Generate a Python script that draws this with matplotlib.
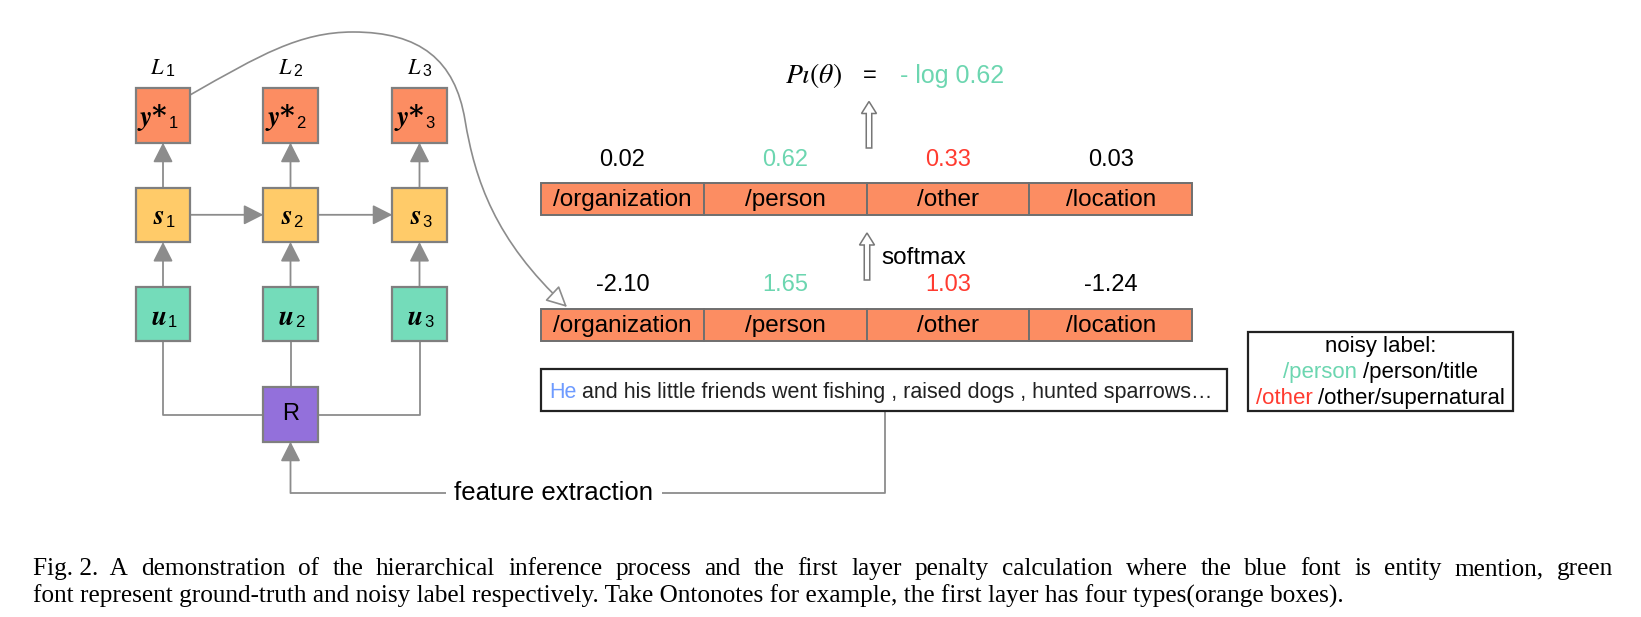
import matplotlib
matplotlib.use('Agg')
import matplotlib.pyplot as plt
from matplotlib.patches import Rectangle, FancyArrowPatch, FancyArrow
from matplotlib.path import Path

plt.rcParams['mathtext.fontset'] = 'stix'

# ---- data ----
LAYERS = [1, 2, 3]
TYPES = ['/organization', '/person', '/other', '/location']
LOGITS = [-2.10, 1.65, 1.03, -1.24]
PROBS = [0.02, 0.62, 0.33, 0.03]
TRUE_IDX = 1      # ground truth type (green)
NOISY_IDX = 2     # noisy type (red)
PENALTY = '- log 0.62'
MENTION = 'He'
SENTENCE = 'and his little friends went fishing , raised dogs , hunted sparrows…'
NOISY_TITLE = 'noisy label:'
NOISY_LABELS = [('/person', '/person/title'), ('/other', '/other/supernatural')]
CAPTION = [
    'Fig. 2.  A demonstration of the hierarchical inference process and the first layer '
    'penalty calculation where the blue font is entity mention, green',
    'font represent ground-truth and noisy label respectively. Take Ontonotes for example, '
    'the first layer has four types(orange boxes).',
]

# ---- colours ----
ORANGE = '#FC8D62'
YELLOW = '#FFCB69'
MINT = '#74DCBA'
PURPLE = '#9370DB'
GREEN_TXT = '#6CD6B0'
RED_TXT = '#FF3B30'
BLUE_TXT = '#6E9BFF'
EDGE = '#7F7F7F'
GREY = '#8C8C8C'
SANS = 'Liberation Sans'
SERIF = 'Liberation Serif'

W, H = 1641, 617
fig = plt.figure(figsize=(W / 100, H / 100), dpi=100)
ax = fig.add_axes([0, 0, 1, 1])
ax.set_xlim(0, W)
ax.set_ylim(H, 0)
ax.axis('off')
renderer = fig.canvas.get_renderer()


def text_width(s, **kw):
    t = ax.text(0, 0, s, **kw)
    w = t.get_window_extent(renderer).width
    t.remove()
    return w


def colored_line(x, y, parts, size, ha='center', zorder=4):
    # draws words of different colours on one baseline
    sp = text_width('a a', fontsize=size, family=SANS) - text_width('aa', fontsize=size, family=SANS)
    widths = [text_width(s, fontsize=size, family=SANS) for s, c in parts]
    total = sum(widths) + sp * (len(parts) - 1)
    cur = x - total / 2 if ha == 'center' else x
    for (s, c), w in zip(parts, widths):
        ax.text(cur, y, s, fontsize=size, family=SANS, color=c, ha='left', va='baseline',
                zorder=zorder)
        cur += w + sp


def box(cx, cy, size, color, lw=1.6):
    ax.add_patch(Rectangle((cx - size / 2, cy - size / 2), size, size,
                           facecolor=color, edgecolor=EDGE, linewidth=lw, zorder=3))


def arrow(p0, p1):
    ax.add_patch(FancyArrowPatch(p0, p1, arrowstyle='-|>,head_length=0.75,head_width=0.38',
                                 mutation_scale=16, color=GREY, linewidth=1.3,
                                 shrinkA=0, shrinkB=0, zorder=2))


def line(xs, ys):
    ax.plot(xs, ys, color=GREY, linewidth=1.3, solid_capstyle='butt', zorder=1)


def node_label(cx, cy, sym, n, off, base, sub_base):
    ax.text(cx + off, cy + base, sym, fontsize=20, family='DejaVu Serif', fontweight='bold',
            ha='right', va='baseline', zorder=4)
    ax.text(cx + off + 1, cy + sub_base, str(n), fontsize=12, family=SANS,
            ha='left', va='baseline', zorder=4)


# ---- left part: hierarchical inference ----
COL_X = [163, 290.5, 419.5]
BOX = 54.4
Y_ROW, S_ROW, U_ROW, R_ROW = 115.5, 214.8, 314.2, 414.5
half = BOX / 2

for cx, n in zip(COL_X, LAYERS):
    ax.text(cx + 2, 74.5, r'$L$', fontsize=16, ha='right', va='baseline')
    ax.text(cx + 2.5, 76.5, str(n), fontsize=11.5, family=SANS, ha='left', va='baseline')
    box(cx, Y_ROW, BOX, ORANGE)
    box(cx, S_ROW, BOX, YELLOW)
    box(cx, U_ROW, BOX, MINT)
    node_label(cx, Y_ROW, r'$\mathbfit{y}$*', n, 5, 9.5, 13)
    node_label(cx, S_ROW, r'$\mathbfit{s}$', n, 2, 9.5, 12)
    node_label(cx, U_ROW, r'$\mathbfit{u}$', n, 3.5, 10.5, 12.5)
    arrow((cx, S_ROW - half), (cx, Y_ROW + half))
    arrow((cx, U_ROW - half), (cx, S_ROW + half))

for a, b in zip(COL_X[:-1], COL_X[1:]):
    arrow((a + half, S_ROW), (b - half, S_ROW))

box(COL_X[1], R_ROW, BOX, PURPLE)
ax.text(COL_X[1], R_ROW, 'R', fontsize=17, family=SANS, ha='center', va='center', zorder=4)
line([COL_X[0], COL_X[0], COL_X[1] - half], [U_ROW + half, R_ROW, R_ROW])
line([COL_X[2], COL_X[2], COL_X[1] + half], [U_ROW + half, R_ROW, R_ROW])
line([COL_X[1], COL_X[1]], [U_ROW + half, R_ROW - half])

# ---- type layers ----
X0, CELL_W, CELL_H = 541, 162.75, 32
TOP_Y, BOT_Y = 183, 309
for i, name in enumerate(TYPES):
    x = X0 + i * CELL_W
    for y0 in (TOP_Y, BOT_Y):
        ax.add_patch(Rectangle((x, y0), CELL_W, CELL_H, facecolor=ORANGE,
                               edgecolor='#6F6F6F', linewidth=1.4, zorder=3))
        ax.text(x + CELL_W / 2, y0 + CELL_H / 2 + 1, name, fontsize=17.5, family=SANS,
                ha='center', va='center', zorder=4)
    col = GREEN_TXT if i == TRUE_IDX else RED_TXT if i == NOISY_IDX else 'black'
    ax.text(x + CELL_W / 2, 160, '%.2f' % PROBS[i], fontsize=17, family=SANS,
            color=col, ha='center', va='center')
    ax.text(x + CELL_W / 2, 285, '%.2f' % LOGITS[i], fontsize=17, family=SANS,
            color=col, ha='center', va='center')

# hollow block arrows
for xa, y0, y1 in [(869, 148, 101.5), (867, 280, 233)]:
    ax.add_patch(FancyArrow(xa, y0, 0, y1 - y0, width=5.5, head_width=15, head_length=12,
                            length_includes_head=True, facecolor='white', edgecolor='#777777',
                            linewidth=1.1, zorder=3))
ax.text(881, 258, 'softmax', fontsize=17.5, family=SANS, ha='left', va='center')

ax.text(814, 76, r'$P\iota(\theta)$', fontsize=20, ha='center', va='center')
ax.text(870, 76, '=', fontsize=17, family=SANS, ha='center', va='center')
ax.text(900, 76, PENALTY, fontsize=18, family=SANS, color=GREEN_TXT, ha='left', va='center')

# curved link from y*_1 to the logits layer
verts = [(190, 95), (260, 55), (300, 32), (353, 32),
         (420, 32), (455, 60), (465, 120),
         (475, 180), (495, 240), (567, 307)]
codes = [Path.MOVETO] + [Path.CURVE4] * 9
ax.add_patch(FancyArrowPatch(path=Path(verts, codes),
                             arrowstyle='-|>,head_length=0.8,head_width=0.4', mutation_scale=16,
                             facecolor='white', edgecolor=GREY, linewidth=1.2, zorder=2))

# ---- sentence box ----
ax.add_patch(Rectangle((541, 368.5), 686, 42.5, facecolor='white', edgecolor='#222222',
                       linewidth=1.6, zorder=3))
sent_fs = 10 * (1216 - 549) / (text_width(MENTION + ' ' + SENTENCE, fontsize=10, family=SANS))
colored_line(549, 398, [(MENTION, BLUE_TXT), (SENTENCE, '#222222')], sent_fs, ha='left')

# feature extraction connector
line([885, 885, 662], [411, 492.5, 492.5])
ax.text(554, 492.5, 'feature extraction', fontsize=18.5, family=SANS, ha='center', va='center')
line([446, COL_X[1]], [492.5, 492.5])
arrow((COL_X[1], 493.1), (COL_X[1], R_ROW + half))

# ---- noisy label box ----
ax.add_patch(Rectangle((1248, 332), 265, 79, facecolor='white', edgecolor='#222222',
                       linewidth=1.6, zorder=1))
ax.text(1380.5, 346.5, NOISY_TITLE, fontsize=16, family=SANS, ha='center', va='center')
for (head, rest), y, c in zip(NOISY_LABELS, [378, 404], [GREEN_TXT, RED_TXT]):
    colored_line(1380.5, y, [(head, c), (rest, 'black')], 16)

# ---- caption (line 1 justified, line 2 sets the size) ----
CAP_L, CAP_R, CAP_END2 = 33, 1613, 1343
cap_fs = 10 * (CAP_END2 - CAP_L) / text_width(CAPTION[1], fontsize=10, family=SERIF)
words = CAPTION[0].replace('Fig. 2.  ', 'Fig.\x002.\x00\x00').split(' ')
words = [w.replace('\x00', ' ') for w in words]
cw = [text_width(w, fontsize=cap_fs, family=SERIF) for w in words]
gap = (CAP_R - CAP_L - sum(cw)) / (len(words) - 1)
cur = CAP_L
for w, wd in zip(words, cw):
    ax.text(cur, 575, w, fontsize=cap_fs, family=SERIF, ha='left', va='baseline')
    cur += wd + gap
ax.text(CAP_L, 603, CAPTION[1], fontsize=cap_fs, family=SERIF, ha='left', va='baseline')

fig.savefig('out.png', dpi=100)
